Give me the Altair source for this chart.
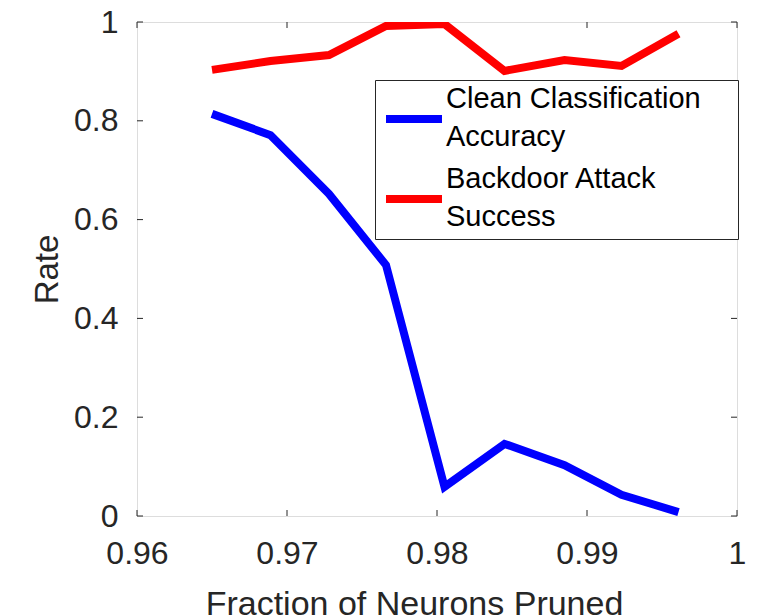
import altair as alt
import pandas as pd

# ---- data ----
fraction = [0.9650, 0.9689, 0.9728, 0.9766, 0.9805, 0.9845, 0.9885, 0.9923, 0.9961]
clean_acc = [0.814, 0.771, 0.652, 0.508, 0.059, 0.146, 0.103, 0.043, 0.008]
attack_succ = [0.903, 0.921, 0.933, 0.992, 0.996, 0.901, 0.923, 0.911, 0.976]
series_names = ["Clean Classification Accuracy", "Backdoor Attack Success"]
series_colors = ["#0000FF", "#FF0000"]
x_ticks = [0.96, 0.97, 0.98, 0.99, 1.0]
y_ticks = [0.0, 0.2, 0.4, 0.6, 0.8, 1.0]

W, H = 600, 494
FONT = "Liberation Sans"
TXT = "#262626"
PAD = "\u00a0\u00a0\u00a0\u2009\u200b"  # invisible trailing width to widen the legend box

rows = []
for xv, a, b in zip(fraction, clean_acc, attack_succ):
    rows.append({"x": xv, "y": a, "series": series_names[0]})
    rows.append({"x": xv, "y": b, "series": series_names[1]})
df = pd.DataFrame(rows)

xscale = alt.Scale(domain=[0.96, 1.0], nice=False, zero=False)
yscale = alt.Scale(domain=[0.0, 1.0], nice=False)

label_expr = ("datum.label == 'Clean Classification Accuracy' ? "
              "['Clean Classification" + PAD + "', 'Accuracy'] : ['Backdoor Attack', 'Success']")

lines = alt.Chart(df).mark_line(strokeWidth=8, strokeJoin="miter", clip=True).encode(
    x=alt.X("x:Q", scale=xscale,
            axis=alt.Axis(values=x_ticks, format="~g", title="Fraction of Neurons Pruned",
                          domain=False, ticks=False, grid=False,
                          labelFontSize=32, labelFont=FONT, labelColor=TXT,
                          labelPadding=22, labelFlush=False,
                          titleFontSize=34, titleFont=FONT, titleColor=TXT,
                          titleFontWeight="normal", titleX=277, titleY=98,
                          titleBaseline="alphabetic", titleAlign="center")),
    y=alt.Y("y:Q", scale=yscale,
            axis=alt.Axis(values=y_ticks, format="~g", title="Rate",
                          domain=False, ticks=False, grid=False,
                          labelFontSize=32, labelFont=FONT, labelColor=TXT,
                          labelPadding=19, labelFlush=False,
                          titleFontSize=33, titleFont=FONT, titleColor=TXT,
                          titleFontWeight="normal", titleX=-80, titleY=H / 2,
                          titleAngle=270, titleBaseline="alphabetic", titleAlign="center")),
    color=alt.Color("series:N", scale=alt.Scale(domain=series_names, range=series_colors),
                    legend=alt.Legend(orient="none", legendX=238, legendY=58, title=None,
                                      symbolType="stroke", symbolSize=3136, symbolStrokeWidth=8,
                                      labelFontSize=29, labelFont=FONT, labelColor="black",
                                      labelBaseline="line-bottom",
                                      labelExpr=label_expr, labelLimit=500, labelOffset=0,
                                      padding=7, rowPadding=13,
                                      fillColor="white", strokeColor="#262626")),
    order="x:Q",
)

xt = pd.DataFrame({"v": x_ticks})
yt = pd.DataFrame({"v": y_ticks})
tick_style = dict(color=TXT, strokeWidth=1)
xb = alt.Chart(xt).mark_rule(**tick_style).encode(x=alt.X("v:Q", scale=xscale), y=alt.value(H), y2=alt.value(H - 6))
xtp = alt.Chart(xt).mark_rule(**tick_style).encode(x=alt.X("v:Q", scale=xscale), y=alt.value(0), y2=alt.value(6))
yl = alt.Chart(yt).mark_rule(**tick_style).encode(y=alt.Y("v:Q", scale=yscale), x=alt.value(0), x2=alt.value(6))
yr = alt.Chart(yt).mark_rule(**tick_style).encode(y=alt.Y("v:Q", scale=yscale), x=alt.value(W), x2=alt.value(W - 6))

chart = alt.layer(xb, xtp, yl, yr, lines).properties(
    width=W, height=H,
    autosize=alt.AutoSizeParams(type="none"),
    padding={"left": 137, "top": 22, "right": 24, "bottom": 100},
).configure_view(stroke=TXT, strokeWidth=1).configure(
    background="white",
    style={"guide-label": {"lineHeight": 38}},
)

chart.save("out.html", embed_options={"renderer": "svg", "actions": False})
